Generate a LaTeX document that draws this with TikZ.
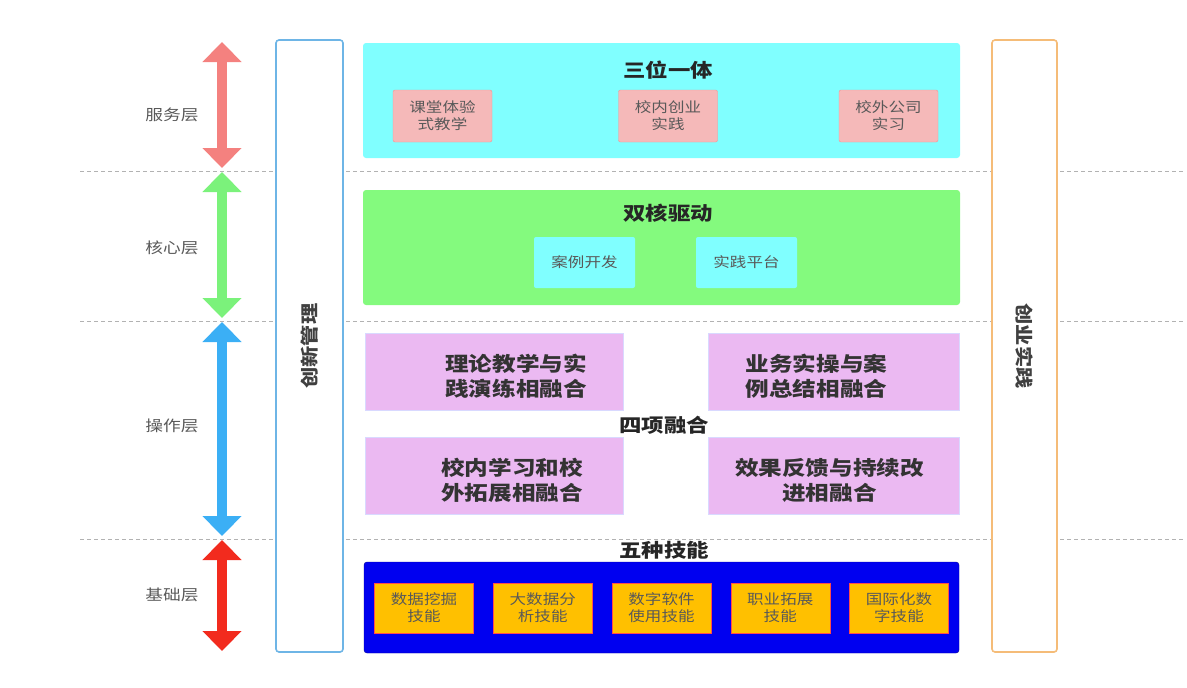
\documentclass[tikz,border=0pt]{standalone}
\usepackage{fontspec}
\setmainfont{Noto Sans CJK SC}[FakeStretch=1.18]
\usetikzlibrary{positioning, arrows.meta}
\definecolor{cyanfill}{HTML}{80FFFF}
\definecolor{greenfill}{HTML}{84FA7E}
\definecolor{pinkfill}{HTML}{F5B9B9}
\definecolor{purplefill}{HTML}{EBB9F2}
\definecolor{bluefill}{HTML}{0000F0}
\definecolor{orangefill}{HTML}{FFC000}
\definecolor{servered}{HTML}{F4817F}
\definecolor{coregreen}{HTML}{7BF27B}
\definecolor{opblue}{HTML}{3BAFF5}
\definecolor{basered}{HTML}{F22B1E}
\definecolor{barblue}{HTML}{6EB5E6}
\definecolor{barorange}{HTML}{F5BC78}

\begin{document}
\begin{tikzpicture}[
    x=1pt, y=-1pt,
    every node/.style={inner sep=0pt, align=center, font=\fontsize{14}{17}\selectfont},
    block/.style={rectangle, rounded corners=3pt, minimum width=597pt, minimum height=115pt},
    title/.style={font=\fontsize{19}{21}\selectfont\bfseries, text=black!85},
    sub/.style={rectangle, rounded corners=2pt, minimum width=99pt, minimum height=52pt, text=black!65},
    fuse/.style={rectangle, fill=purplefill, draw=blue!15, minimum width=258pt, minimum height=77pt},
    fusetext/.style={font=\fontsize{20}{25}\selectfont\bfseries, text=black!80, yshift=-4pt},
    skill/.style={rectangle, fill=orangefill, draw=red!70, minimum width=99pt, minimum height=50pt, text=black!65},
    bar/.style={rectangle, rounded corners=3pt, fill=white, line width=1.6pt, minimum width=612pt, font=\fontsize{18}{20}\selectfont\bfseries, text=black!75},
    layertext/.style={font=\fontsize{15}{17}\selectfont, text=black!65},
    layer/.style={line width=10pt, {Triangle[width=38pt,length=20pt]}-{Triangle[width=38pt,length=20pt]}},
    sep/.style={draw=black!30, line width=0.8pt, dash pattern=on 4pt off 3pt}
]
\useasboundingbox (0,0) rectangle (1187,688);

% layer separators
\foreach \y in {171, 321, 539}
    \draw[sep] (80,\y) -- (1185,\y);

% layer labels and arrows
\node[layertext] (l1) at (172,115) {服务层};
\node[layertext] (l2) at (172,248) {核心层};
\node[layertext] (l3) at (172,426) {操作层};
\node[layertext] (l4) at (172,595) {基础层};

\coordinate (a1) at (222,42);  \coordinate (b1) at (222,168);
\coordinate (a2) at (222,172); \coordinate (b2) at (222,318);
\coordinate (a3) at (222,322); \coordinate (b3) at (222,536);
\coordinate (a4) at (222,540); \coordinate (b4) at (222,651);
\draw[layer, servered] (a1) -- (b1);
\draw[layer, coregreen] (a2) -- (b2);
\draw[layer, opblue] (a3) -- (b3);
\draw[layer, basered] (a4) -- (b4);

% side bars
\node[bar, draw=barblue, rotate=90, minimum height=67pt] (innov) at (309.5,346) {创新管理};
\node[bar, draw=barorange, rotate=-90, minimum height=65pt] (start) at (1024.5,346) {创业实践};

% service layer
\node[block, fill=cyanfill] (serve) at (661.5,100.5) {};
\node[title] (t1) at (668,70) {三位一体};
\node[sub, fill=pinkfill, draw=pinkfill!80!red] (s1) at (442.5,116) {课堂体验\\式教学};
\node[sub, fill=pinkfill, draw=pinkfill!80!red] (s2) at (668,116) {校内创业\\实践};
\node[sub, fill=pinkfill, draw=pinkfill!80!red] (s3) at (888.5,116) {校外公司\\实习};

% core layer
\node[block, fill=greenfill] (core) at (661.5,247.5) {};
\node[title] (t2) at (668,213) {双核驱动};
\node[sub, fill=cyanfill, minimum width=101pt, minimum height=51pt] (c1) at (584.5,262.5) {案例开发};
\node[sub, fill=cyanfill, minimum width=101pt, minimum height=51pt] (c2) at (746.5,262.5) {实践平台};

% operation layer
\node[fuse, label={[fusetext, xshift=22pt]center:理论教学与实\\践演练相融合}] (f1) at (494,372) {};
\node[fuse, minimum width=251pt, label={[fusetext, xshift=-17pt]center:业务实操与案\\例总结相融合}] (f2) at (833.5,372) {};
\node[title] (t3) at (664,425) {四项融合};
\node[fuse, label={[fusetext, xshift=18pt]center:校内学习和校\\外拓展相融合}] (f3) at (494,476) {};
\node[fuse, minimum width=251pt, label={[fusetext, xshift=-4pt]center:效果反馈与持续改\\进相融合}] (f4) at (833.5,476) {};

% base layer
\node[title] (t4) at (664,550) {五种技能};
\node[block, fill=bluefill, draw=blue!60!black, minimum width=595pt, minimum height=91pt] (base) at (661.5,607.5) {};
\foreach \name [count=\i from 0] in {数据挖掘\\技能, 大数据分\\析技能, 数字软件\\使用技能, 职业拓展\\技能, 国际化数\\字技能}
    \node[skill] (k\i) at (424+118.75*\i,608) {\name};
\end{tikzpicture}
\end{document}
